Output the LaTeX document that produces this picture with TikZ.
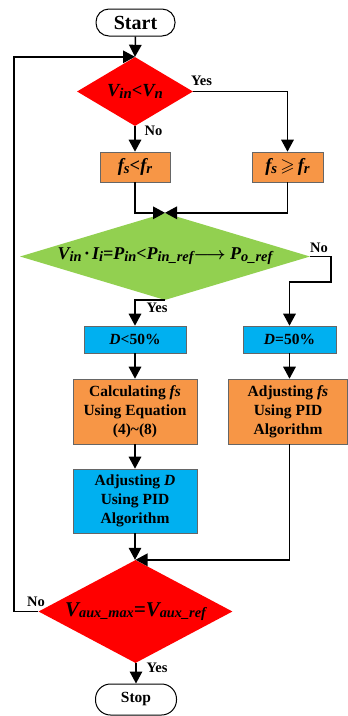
\documentclass[tikz,border=0pt]{standalone}
\usepackage{fontspec}
\usepackage{amssymb}
\setmainfont{Liberation Serif}
\usetikzlibrary{shapes.geometric,arrows.meta}
\definecolor{cred}{HTML}{FF0000}
\definecolor{corange}{HTML}{F79646}
\definecolor{cgreen}{HTML}{92D050}
\definecolor{cblue}{HTML}{00B0F0}
\newcommand\sbx[1]{\raisebox{-0.12em}{\scalebox{0.8}{#1}}}
\newcommand\sby[1]{\raisebox{-0.08em}{\scalebox{0.68}{#1}}}
\begin{document}
\begin{tikzpicture}[x=1pt,y=-1pt,
  term/.style={draw=black,line width=1pt,rectangle,rounded corners=13pt,inner sep=0pt,font=\bfseries},
  dia/.style={diamond,inner sep=0pt,draw=none},
  proc/.style={rectangle,draw=black!60,line width=0.6pt,inner sep=0pt,align=center,font=\fontsize{15.5}{19}\selectfont\bfseries},
  lbl/.style={inner sep=0pt,font=\fontsize{14.5}{16}\selectfont\bfseries},
  arr/.style={line width=1.5pt,-{Triangle[width=12.5pt,length=12pt]}},
  ln/.style={line width=1.5pt}]
\useasboundingbox (0,0) rectangle (348,716);
\node[term,minimum width=79pt,minimum height=27pt,font=\fontsize{20}{22}\selectfont\bfseries] (start) at (135.5,22.5) {Start};
\node[dia,fill=cred,minimum width=116pt,minimum height=69pt] (d1) at (135,91.5) {\makebox[0pt]{\fontsize{18.5}{20}\selectfont\bfseries\itshape V\sbx{in}<V\sbx{n}}};
\node[proc,fill=corange,minimum width=70pt,minimum height=30pt] (fsl) at (135,167) {\fontsize{18.5}{20}\selectfont\bfseries\itshape f\sbx{s}<f\sbx{r}};
\node[proc,fill=corange,minimum width=71pt,minimum height=30pt] (fsge) at (287.5,167) {\fontsize{18.5}{20}\selectfont\bfseries\itshape f\sbx{s}\,{\boldmath$\geqslant$}\,f\sbx{r}};
\node[dia,fill=cgreen,minimum width=290pt,minimum height=87pt] (g) at (165,256.5) {\makebox[0pt]{\fontsize{18}{20}\selectfont\bfseries\itshape V\sbx{in}\,·\,I\sbx{i}=P\sbx{in}<P\sbx{in\_ref}{\boldmath$\longrightarrow$}\ P\sbx{o\_ref}}};
\node[proc,fill=cblue,minimum width=102pt,minimum height=27pt] (dl) at (135,339.5) {{\itshape D}<50\%};
\node[proc,fill=cblue,minimum width=93pt,minimum height=27pt] (d50) at (289.5,339.5) {{\itshape D}=50\%};
\node[proc,fill=corange,minimum width=124pt,minimum height=65pt] (calc) at (135,411.5) {Calculating {\itshape fs}\\Using Equation\\(4)\textasciitilde(8)};
\node[proc,fill=corange,minimum width=119pt,minimum height=65pt] (adjfs) at (288,411.5) {Adjusting {\itshape fs}\\Using PID\\Algorithm};
\node[proc,fill=cblue,minimum width=124pt,minimum height=64pt] (adjd) at (135,501) {Adjusting {\itshape D}\\Using PID\\Algorithm};
\node[dia,fill=cred,minimum width=194pt,minimum height=103pt] (d2) at (135.5,611.5) {\makebox[0pt]{\fontsize{21}{24}\selectfont\bfseries\itshape V\sby{aux\_max}=V\sby{aux\_ref}}};
\node[term,minimum width=81pt,minimum height=31pt,rounded corners=15pt,font=\fontsize{15.5}{18}\selectfont\bfseries] (stop) at (136,699.5) {Stop};
\node[lbl] (yes1) at (201.5,80.5) {Yes};
\node[lbl] (no1) at (153.5,131) {No};
\node[lbl] (no2) at (319,248) {No};
\node[lbl] (yes2) at (157,308) {Yes};
\node[lbl] (no3) at (36,602) {No};
\node[lbl] (yes3) at (157,668) {Yes};
\coordinate (k) at (331,282);
\coordinate (lp) at (14,611.5);
\draw[arr] (start.south) -- (d1.north);
\draw[arr] (d2.west) -- (lp) |- (d1.north);
\draw[arr] (d1.east) -| (fsge.north);
\draw[arr] (d1.south) -- (fsl.north);
\draw[arr] (fsl.south) |- (g.north);
\draw[arr] (fsge.south) |- (g.north);
\draw[arr] (g.east) -| (k) -| (d50.north);
\draw[arr] (g.south) -| (dl.north);
\draw[arr] (dl.south) -- (calc.north);
\draw[arr] (d50.south) -- (adjfs.north -| d50.south);
\draw[arr] (calc.south) -- (adjd.north);
\draw[arr] (adjd.south) -- (d2.north -| adjd.south);
\draw[arr] (adjfs.south -| d50.south) |- (d2.north);
\draw[arr] (d2.south -| stop.north) -- (stop.north);
\end{tikzpicture}
\end{document}
